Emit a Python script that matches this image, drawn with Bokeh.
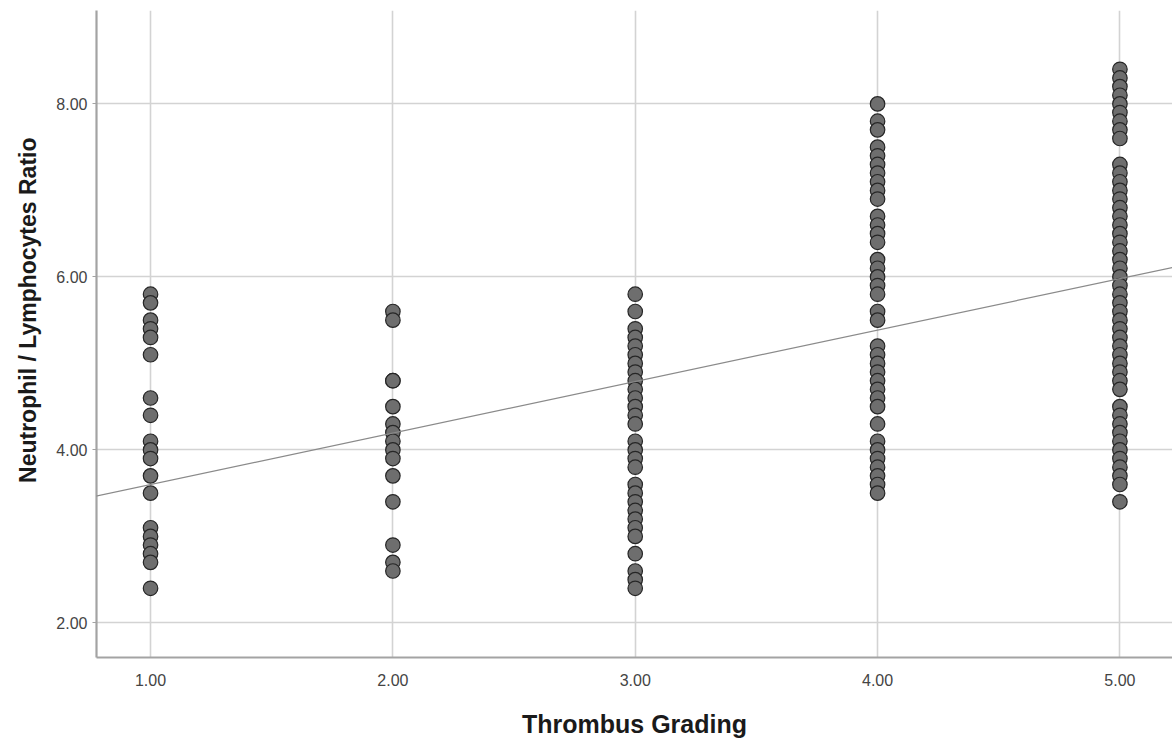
import math
from bokeh.plotting import figure
from bokeh.models import (ColumnDataSource, Range1d, FixedTicker, PrintfTickFormatter,
                          Slope, Title)
from bokeh.embed import file_html
from bokeh.resources import INLINE

# ---- data ----
grades = [1.0, 2.0, 3.0, 4.0, 5.0]
nlr_grade1 = [5.8, 5.7, 5.5, 5.4, 5.3, 5.1, 4.6, 4.4, 4.1, 4.0, 3.9, 3.7, 3.5,
              3.1, 3.0, 2.9, 2.8, 2.7, 2.4]
nlr_grade2 = [5.6, 5.5, 4.8, 4.8, 4.5, 4.3, 4.2, 4.1, 4.0, 3.9, 3.7, 3.4, 2.9,
              2.7, 2.6]
nlr_grade3 = [5.8, 5.6, 5.4, 5.3, 5.2, 5.1, 5.0, 4.9, 4.8, 4.7, 4.6, 4.5, 4.4,
              4.3, 4.1, 4.0, 3.9, 3.8, 3.6, 3.5, 3.4, 3.3, 3.2, 3.1, 3.0, 2.8,
              2.6, 2.5, 2.4]
nlr_grade4 = [8.0, 7.8, 7.7, 7.5, 7.4, 7.3, 7.2, 7.1, 7.0, 6.9, 6.7, 6.6, 6.5,
              6.4, 6.2, 6.1, 6.0, 5.9, 5.8, 5.6, 5.5, 5.2, 5.1, 5.0, 4.9, 4.8,
              4.7, 4.6, 4.5, 4.3, 4.1, 4.0, 3.9, 3.8, 3.7, 3.6, 3.5]
nlr_grade5 = [8.4, 8.3, 8.2, 8.1, 8.0, 7.9, 7.8, 7.7, 7.6, 7.3, 7.2, 7.1, 7.0,
              6.9, 6.8, 6.7, 6.6, 6.5, 6.4, 6.3, 6.2, 6.1, 6.0, 5.9, 5.8, 5.7,
              5.6, 5.5, 5.4, 5.3, 5.2, 5.1, 5.0, 4.9, 4.8, 4.7, 4.5, 4.4, 4.3,
              4.2, 4.1, 4.0, 3.9, 3.8, 3.7, 3.6, 3.4]
fit_intercept = 3.005
fit_slope = 0.595
x_ticks = [1, 2, 3, 4, 5]
y_ticks = [2, 4, 6, 8]
x_title = "Thrombus Grading"
y_title = "Neutrophil / Lymphocytes Ratio"

groups = [nlr_grade1, nlr_grade2, nlr_grade3, nlr_grade4, nlr_grade5]
xs, ys = [], []
for g, vals in zip(grades, groups):
    xs.extend([g] * len(vals))
    ys.extend(vals)
src = ColumnDataSource(data=dict(x=xs, y=ys))

FONT = "Liberation Sans"

p = figure(width=1172, height=740, output_backend="svg", toolbar_location=None,
           x_range=Range1d(0.777, 5.217), y_range=Range1d(1.60, 9.08),
           min_border_left=96, min_border_right=0, min_border_top=10,
           min_border_bottom=82, background_fill_color="white",
           border_fill_color="white")
p.outline_line_color = None

# grid
p.xgrid.ticker = FixedTicker(ticks=x_ticks)
p.ygrid.ticker = FixedTicker(ticks=y_ticks)
for gr in (p.xgrid, p.ygrid):
    gr.grid_line_color = "#d3d3d3"
    gr.grid_line_width = 1.6

# axes
for ax in (p.xaxis, p.yaxis):
    ax.axis_line_color = "#a3a3a3"
    ax.axis_line_width = 2.2
    ax.minor_tick_line_color = None
    ax.major_label_text_font = FONT
    ax.major_label_text_font_size = "16px"
    ax.major_label_text_color = "#444444"
    ax.formatter = PrintfTickFormatter(format="%.2f")
p.xaxis.ticker = FixedTicker(ticks=x_ticks)
p.yaxis.ticker = FixedTicker(ticks=y_ticks)
p.xaxis.major_tick_line_color = None
p.xaxis.major_label_standoff = 10
p.yaxis.major_tick_line_color = "#a3a3a3"
p.yaxis.major_tick_out = 4
p.yaxis.major_tick_in = 0
p.yaxis.major_label_standoff = 5

p.xaxis.axis_label = x_title
p.xaxis.axis_label_text_font = FONT
p.xaxis.axis_label_text_font_size = "25px"
p.xaxis.axis_label_text_font_style = "bold"
p.xaxis.axis_label_text_color = "#1a1a1a"
p.xaxis.axis_label_standoff = 21

# y title in its own panel left of the y axis
p.add_layout(Title(text=y_title, align="right", offset=127, standoff=25,
                   vertical_align="bottom", text_font=FONT,
                   text_font_size="23px", text_font_style="bold",
                   text_color="#1a1a1a"), "left")

p.scatter("x", "y", source=src, marker="circle", size=14.5,
          fill_color="#6e6e6e", line_color="#262626", line_width=1.2)

p.add_layout(Slope(gradient=fit_slope, y_intercept=fit_intercept,
                   line_color="#8a8a8a", line_width=1.2))

open("out.html", "w").write(file_html(p, INLINE))
